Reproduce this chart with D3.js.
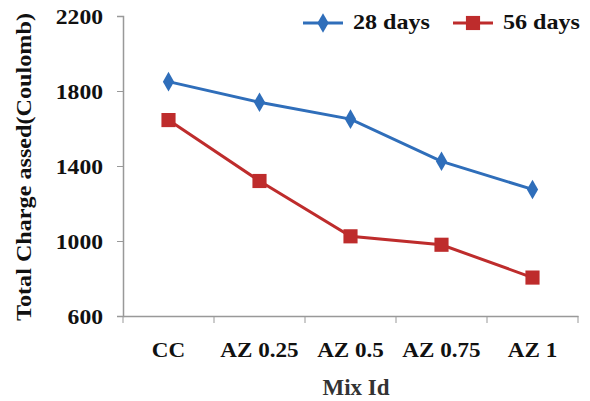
<!DOCTYPE html>
<html>
<head>
<meta charset="utf-8">
<script src="https://cdn.jsdelivr.net/npm/d3@7"></script>
<style>
  body { margin: 0; background: #fff; }
  text { font-family: "Liberation Serif", "Times New Roman", serif; font-weight: bold; fill: #111; }
</style>
</head>
<body>
<div id="chart"></div>
<script>
// chart data
var mixIds = ["CC", "AZ 0.25", "AZ 0.5", "AZ 0.75", "AZ 1"];
var days28 = [1850, 1740, 1650, 1425, 1275];
var days56 = [1645, 1320, 1025, 980, 805];
var yTicks = [600, 1000, 1400, 1800, 2200];

var width = 590, height = 401;
var margin = {top: 16, right: 12, bottom: 85, left: 123};

var svg = d3.select("#chart").append("svg")
    .attr("width", width)
    .attr("height", height);

var x = d3.scaleBand()
    .domain(mixIds)
    .range([margin.left, width - margin.right]);

var y = d3.scaleLinear()
    .domain([600, 2200])
    .range([height - margin.bottom, margin.top]);

var axisColor = "#999";

// the reference text is a bit wider than plain Times, stretch it around its anchor
function stretch(sel, sx) {
  sel.each(function(){
    var t = d3.select(this);
    var tx = +t.attr("x") || 0, ty = +t.attr("y") || 0;
    t.attr("x", 0).attr("y", 0)
     .attr("transform", "translate(" + tx + "," + ty + ") scale(" + sx + ",1)");
  });
}

// y axis
var yAxis = svg.append("g")
    .attr("transform", "translate(" + margin.left + ",0)")
    .call(d3.axisLeft(y).tickValues(yTicks).tickSize(6).tickPadding(14).tickFormat(d3.format("d")));
yAxis.selectAll("text").style("font-size", "20px").attr("dy", "0.35em");
stretch(yAxis.selectAll("text"), 1.18);

// x axis, ticks between the categories
var xAxis = svg.append("g")
    .attr("transform", "translate(0," + y(600) + ")")
    .call(d3.axisBottom(x).tickSize(0).tickPadding(41));
xAxis.selectAll("text").style("font-size", "21px").attr("dy", "0");
stretch(xAxis.selectAll("text"), 1.1);
xAxis.selectAll(".tick line").remove();
var bounds = mixIds.map(function(d){ return x(d); }).concat([x.range()[1]]);
xAxis.selectAll(".sep")
    .data(bounds)
    .enter().append("line")
    .attr("x1", function(d){ return d; })
    .attr("x2", function(d){ return d; })
    .attr("y1", 0)
    .attr("y2", 7)
    .attr("stroke", axisColor);

svg.selectAll(".domain").attr("stroke", axisColor).attr("stroke-width", 1.5);
svg.selectAll(".tick line").attr("stroke", axisColor);

// series
var series = [
  {name: "28 days", values: days28, color: "#2F6EBA", shape: d3.symbolDiamond, size: 110},
  {name: "56 days", values: days56, color: "#BE2C2C", shape: d3.symbolSquare, size: 200}
];

var line = d3.line()
    .x(function(d, i){ return x(mixIds[i]) + x.bandwidth() / 2; })
    .y(function(d){ return y(d); });

series.forEach(function(s){
  svg.append("path")
    .datum(s.values)
    .attr("fill", "none")
    .attr("stroke", s.color)
    .attr("stroke-width", 3)
    .attr("d", line);

  svg.selectAll(null)
    .data(s.values)
    .enter().append("path")
    .attr("d", d3.symbol().type(s.shape).size(s.size))
    .attr("fill", s.color)
    .attr("transform", function(d, i){
      return "translate(" + (x(mixIds[i]) + x.bandwidth() / 2) + "," + y(d) + ")";
    });
});

// legend
var legendX = [303, 453];
series.forEach(function(s, i){
  var g = svg.append("g").attr("transform", "translate(" + legendX[i] + ",23)");
  g.append("line")
    .attr("x1", 0).attr("x2", 40)
    .attr("stroke", s.color).attr("stroke-width", 3);
  g.append("path")
    .attr("d", d3.symbol().type(s.shape).size(s.size))
    .attr("fill", s.color)
    .attr("transform", "translate(20,0)");
  g.append("text")
    .attr("x", 50)
    .attr("y", 6)
    .style("font-size", "21px")
    .attr("textLength", 77)
    .attr("lengthAdjust", "spacingAndGlyphs")
    .text(s.name);
});

// axis titles
svg.append("text")
    .attr("transform", "translate(31,167) rotate(-90)")
    .attr("text-anchor", "middle")
    .style("font-size", "21px")
    .attr("textLength", 308)
    .attr("lengthAdjust", "spacingAndGlyphs")
    .text("Total Charge assed(Coulomb)");

svg.append("text")
    .attr("x", 356)
    .attr("y", 395)
    .attr("text-anchor", "middle")
    .style("font-size", "23px")
    .style("fill", "#333")
    .text("Mix Id");
</script>
</body>
</html>
